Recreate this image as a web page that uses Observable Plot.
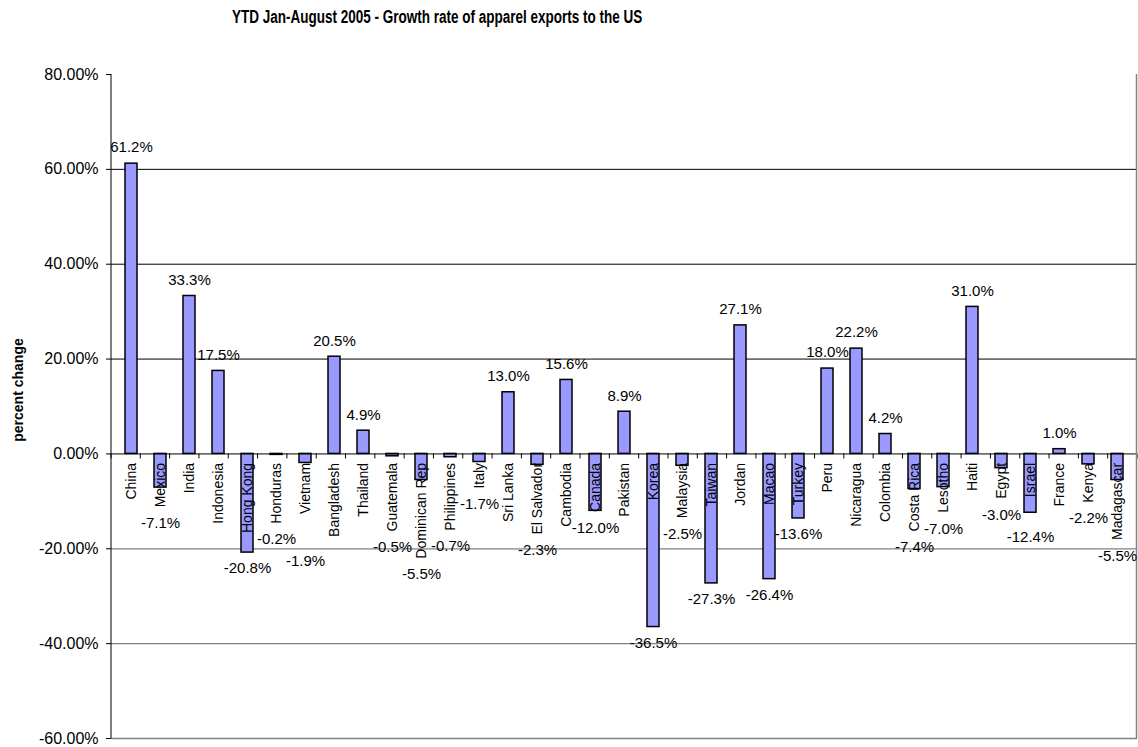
<!DOCTYPE html>
<html>
<head>
<meta charset="utf-8">
<script src="https://cdn.jsdelivr.net/npm/d3@7"></script>
<script src="https://cdn.jsdelivr.net/npm/@observablehq/plot@0.6"></script>
<style>
  body { margin: 0; background: #fff; font-family: Arial, "Liberation Sans", sans-serif; }
  #wrap { position: relative; width: 1138px; height: 747px; overflow: hidden; }
  #title { position: absolute; left: 232px; top: 8px; font-size: 18px; line-height: 18px; font-weight: bold; white-space: nowrap; transform: scaleX(0.75); transform-origin: left center; color: #000; }
  #chart { position: absolute; left: 0; top: 40px; }
  #ylab { position: absolute; left: 18px; top: 390px; transform: translate(-50%, -50%) rotate(-90deg); font-size: 14px; font-weight: bold; white-space: nowrap; color: #000; }
</style>
</head>
<body>
<div id="wrap">
  <div id="title">YTD Jan-August 2005 - Growth rate of apparel exports to the US</div>
  <div id="chart"></div>
  <div id="ylab">percent change</div>
</div>
<script>
const countries = ["China","Mexico","India","Indonesia","Hong Kong","Honduras","Vietnam","Bangladesh","Thailand","Guatemala","Dominican Rep","Philippines","Italy","Sri Lanka","El Salvador","Cambodia","Canada","Pakistan","Korea","Malaysia","Taiwan","Jordan","Macao","Turkey","Peru","Nicaragua","Colombia","Costa Rica","Lesotho","Haiti","Egypt","Israel","France","Kenya","Madagascar"];
const growth = [61.2,-7.1,33.3,17.5,-20.8,-0.2,-1.9,20.5,4.9,-0.5,-5.5,-0.7,-1.7,13.0,-2.3,15.6,-12.0,8.9,-36.5,-2.5,-27.3,27.1,-26.4,-13.6,18.0,22.2,4.2,-7.4,-7.0,31.0,-3.0,-12.4,1.0,-2.2,-5.5];
const yTicks = [-60,-40,-20,0,20,40,60,80];
const positiveGrid = [20,40,60];
const negativeGrid = [-20,-40];

const W = 1138, H = 707, mL = 111, mR = 1, mT = 34, mB = 9;
const yMin = -60, yMax = 80;
const ppu = (H - mT - mB) / (yMax - yMin);
const catFontSize = 14, catGap = 9, labelGap = 16;

const canvas = document.createElement("canvas");
const ctx = canvas.getContext("2d");
ctx.font = `${catFontSize}px Arial, "Liberation Sans", sans-serif`;

const data = countries.map((c, i) => ({country: c, value: growth[i]}));
const pos = data.filter(d => d.value >= 0);

// negative value labels sit below the bar end or below the category name,
// whichever is lower; a label that would collide with its left neighbour is pushed down
const edges = data.map(d => {
  if (d.value >= 0) return null;
  const barPx = -d.value * ppu;
  const textEnd = catGap + ctx.measureText(d.country).width;
  return Math.max(barPx, textEnd) + labelGap;
});
for (let i = 1; i < edges.length; i++) {
  if (edges[i] != null && edges[i - 1] != null && Math.abs(edges[i] - edges[i - 1]) < 18) {
    edges[i] = edges[i - 1] + 22;
  }
}
const neg = data.map((d, i) => ({...d, labelY: edges[i] == null ? null : -edges[i] / ppu})).filter(d => d.value < 0);

const fmt = v => v.toFixed(1) + "%";

const frameLines = (index, scales, values, dims) => {
  const g = d3.create("svg:g");
  const y0 = scales.y(0);
  const n = countries.length;
  const step = (dims.width - dims.marginLeft - dims.marginRight) / n;
  for (let k = 0; k <= n; k++) {
    const x = dims.marginLeft + k * step;
    g.append("line").attr("x1", x).attr("x2", x).attr("y1", y0).attr("y2", y0 + 5).attr("stroke", "#000");
  }
  const xr = dims.width - dims.marginRight - 0.5;
  g.append("line").attr("x1", xr).attr("x2", xr).attr("y1", scales.y(yMax)).attr("y2", scales.y(yMin)).attr("stroke", "#808080").attr("stroke-width", 1.5);
  g.append("line").attr("x1", dims.marginLeft).attr("x2", dims.marginLeft).attr("y1", scales.y(yMax)).attr("y2", scales.y(yMin)).attr("stroke", "#000");
  return g.node();
};

const chart = Plot.plot({
  width: W, height: H,
  marginLeft: mL, marginRight: mR, marginTop: mT, marginBottom: mB,
  style: {fontFamily: 'Arial, "Liberation Sans", sans-serif', fontSize: "15px", color: "#000", background: "#fff", overflow: "visible"},
  x: {domain: countries, paddingInner: 0.59, paddingOuter: 0.295, axis: null},
  y: {domain: [yMin, yMax]},
  marks: [
    Plot.ruleY(positiveGrid, {stroke: "#000", strokeWidth: 1}),
    Plot.ruleY(negativeGrid, {stroke: "#808080", strokeWidth: 1.2}),
    Plot.ruleY([yMin], {stroke: "#808080", strokeWidth: 1.5}),
    Plot.barY(data, {x: "country", y: "value", fill: "#9999FF", stroke: "#000", strokeWidth: 1.5}),
    Plot.ruleY([0], {stroke: "#000", strokeWidth: 1}),
    frameLines,
    Plot.axisY({ticks: yTicks, tickFormat: d => d.toFixed(2) + "%", tickSize: 5, tickPadding: 8, fontSize: 16, label: null, stroke: "#000"}),
    Plot.text(data, {x: "country", y: 0, text: "country", rotate: -90, textAnchor: "end", lineAnchor: "middle", dy: catGap, fontSize: catFontSize, fill: "#000"}),
    Plot.text(pos, {x: "country", y: "value", text: d => fmt(d.value), dy: -labelGap, lineAnchor: "middle", fontSize: 15, fill: "#000"}),
    Plot.text(neg, {x: "country", y: "labelY", text: d => fmt(d.value), lineAnchor: "middle", fontSize: 15, fill: "#000"})
  ]
});
document.getElementById("chart").appendChild(chart);
</script>
</body>
</html>
